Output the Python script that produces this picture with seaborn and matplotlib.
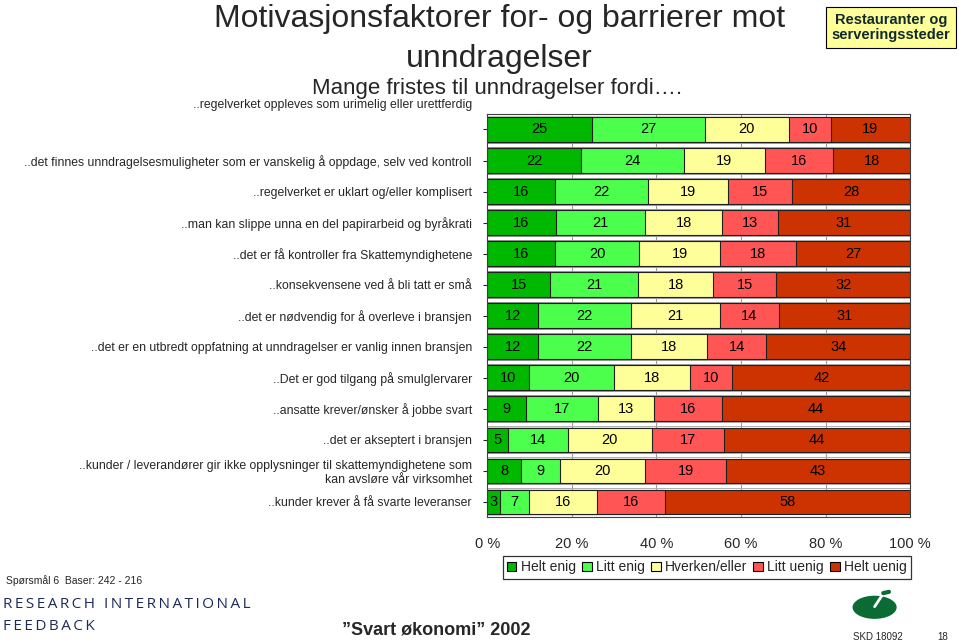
#!/usr/bin/env python3
"""Stacked 100 % bar chart: motivation factors for tax evasion (restaurants)."""

import numpy as np
import pandas as pd
import matplotlib
matplotlib.use("Agg")
import matplotlib.pyplot as plt
import matplotlib.transforms as mtransforms
from matplotlib.patches import Ellipse
import seaborn as sns

# ---- data -------------------------------------------------------------
statements = [
    "..regelverket oppleves som urimelig eller urettferdig",
    "..det finnes unndragelsesmuligheter som er vanskelig å oppdage, selv ved kontroll",
    "..regelverket er uklart og/eller komplisert",
    "..man kan slippe unna en del papirarbeid og byråkrati",
    "..det er få kontroller fra Skattemyndighetene",
    "..konsekvensene ved å bli tatt er små",
    "..det er nødvendig for å overleve i bransjen",
    "..det er en utbredt oppfatning at unndragelser er vanlig innen bransjen",
    "..Det er god tilgang på smulglervarer",
    "..ansatte krever/ønsker å jobbe svart",
    "..det er akseptert i bransjen",
    "..kunder / leverandører gir ikke opplysninger til skattemyndighetene som\nkan avsløre vår virksomhet",
    "..kunder krever å få svarte leveranser",
]
answer_labels = ["Helt enig", "Litt enig", "Hverken/eller", "Litt uenig", "Helt uenig"]

helt_enig = [25, 22, 16, 16, 16, 15, 12, 12, 10, 9, 5, 8, 3]
litt_enig = [27, 24, 22, 21, 20, 21, 22, 22, 20, 17, 14, 9, 7]
hverken = [20, 19, 19, 18, 19, 18, 21, 18, 18, 13, 20, 20, 16]
litt_uenig = [10, 16, 15, 13, 18, 15, 14, 14, 10, 16, 17, 19, 16]
helt_uenig = [19, 18, 28, 31, 27, 32, 31, 34, 42, 44, 44, 43, 58]

x_ticks = [0, 20, 40, 60, 80, 100]
x_tick_labels = ["0 %", "20 %", "40 %", "60 %", "80 %", "100 %"]

colors = ["#00B800", "#4DFF4D", "#FFFF99", "#FF5555", "#CC3300"]

# ---- style ------------------------------------------------------------
sns.set_theme(style="white")
plt.rcParams["font.family"] = ["Liberation Sans", "DejaVu Sans"]

values = np.array([helt_enig, litt_enig, hverken, litt_uenig, helt_uenig], dtype=float)
shares = values / values.sum(axis=0) * 100  # stacked to 100 %
cum = np.cumsum(shares, axis=0)

df = pd.DataFrame({"statement": statements})
for i, lab in enumerate(answer_labels):
    df[lab] = cum[i]

fig = plt.figure(figsize=(9.59, 6.44), dpi=100)
ax = fig.add_axes([0.508, 0.197, 0.441, 0.626])

# vertical grid behind bars
for xv in x_ticks[1:-1]:
    ax.axvline(xv, color="#9a9a9a", lw=0.8, zorder=0)
# thin double lines in the gaps between bars
for k in range(len(statements) - 1):
    for off in (0.43, 0.57):
        ax.axhline(k + off, color="#b0b0b0", lw=0.7, zorder=0)

# draw cumulative layers from the right-most outwards
for i in reversed(range(len(answer_labels))):
    sns.barplot(data=df, x=answer_labels[i], y="statement", orient="h",
                color=colors[i], edgecolor="#202020", linewidth=0.8,
                width=0.78, saturation=1, ax=ax, zorder=2)

# value labels in the middle of each segment
for i in range(len(answer_labels)):
    for r in range(len(statements)):
        mid = cum[i, r] - shares[i, r] / 2
        ax.text(mid, r, f"{int(values[i, r])}", ha="center", va="center",
                fontsize=10.5, color="black", zorder=3)

ax.set_xlim(0, 100)
ax.set_ylim(len(statements) - 0.5, -0.5)
ax.set_xticks(x_ticks)
ax.set_xticklabels(x_tick_labels, fontsize=10.5)
ax.set_xlabel("")
ax.set_ylabel("")
ax.tick_params(axis="x", length=0, pad=14)
ax.tick_params(axis="y", length=3, width=0.8, pad=8, left=True, labelsize=8.8)
for s in ax.spines.values():
    s.set_color("#404040")
    s.set_linewidth(0.8)

# first label sits higher than its bar in the original
first = ax.get_yticklabels()[0]
first.set_transform(first.get_transform() +
                    mtransforms.ScaledTranslation(0, 26 / 100, fig.dpi_scale_trans))

# legend
handles = [plt.Rectangle((0, 0), 1, 1, facecolor=c, edgecolor="black", lw=0.8)
           for c in colors]
leg = fig.legend(handles, answer_labels, loc="upper center", ncol=5,
                 bbox_to_anchor=(0.737, 0.147), frameon=True, fancybox=False,
                 fontsize=10, handlelength=0.7, handleheight=0.7,
                 handletextpad=0.3, columnspacing=0.45, borderpad=0.3)
leg.get_frame().set_edgecolor("black")
leg.get_frame().set_linewidth(0.9)

# titles
fig.text(0.521, 0.970, "Motivasjonsfaktorer for- og barrierer mot",
         ha="center", va="center", fontsize=23)
fig.text(0.521, 0.909, "unndragelser", ha="center", va="center", fontsize=23)
fig.text(0.518, 0.862, "Mange fristes til unndragelser fordi….",
         ha="center", va="center", fontsize=16)

fig.text(0.929, 0.957, "Restauranter og\nserveringssteder", ha="center",
         va="center", fontsize=10.5, fontweight="bold", color="#0f2a2a",
         linespacing=1.1,
         bbox=dict(boxstyle="square,pad=0.4", facecolor="#FFFF99",
                   edgecolor="black", linewidth=0.8))

# footer
def spaced(s):
    return "\u2009".join(s)

fig.text(0.006, 0.099, "Spørsmål 6  Baser: 242 - 216", fontsize=7.5,
         va="center", ha="left")
fig.text(0.003, 0.061, spaced("RESEARCH INTERNATIONAL"), fontsize=11,
         va="center", ha="left", color="#1d2a5c",
         family=["Open Sans", "DejaVu Sans"])
fig.text(0.003, 0.027, spaced("FEEDBACK"), fontsize=11, va="center",
         ha="left", color="#1d2a5c", family=["Open Sans", "DejaVu Sans"])
fig.text(0.455, 0.022, "”Svart økonomi” 2002", fontsize=13, fontweight="bold",
         ha="center", va="center")
fig.text(0.915, 0.011, "SKD 18092", fontsize=7, ha="center", va="center")
fig.text(0.983, 0.011, "18", fontsize=7, ha="center", va="center")

logo = Ellipse((0.912, 0.057), 0.046, 0.036, transform=fig.transFigure,
               facecolor="#0b6b35", edgecolor="none")
fig.add_artist(logo)
fig.add_artist(plt.Line2D([0.912, 0.924], [0.058, 0.085],
                          transform=fig.transFigure, color="white", lw=2))
fig.add_artist(plt.Line2D([0.921, 0.927], [0.079, 0.081],
                          transform=fig.transFigure, color="#0b6b35", lw=3))

fig.savefig("out.png", dpi=100)
